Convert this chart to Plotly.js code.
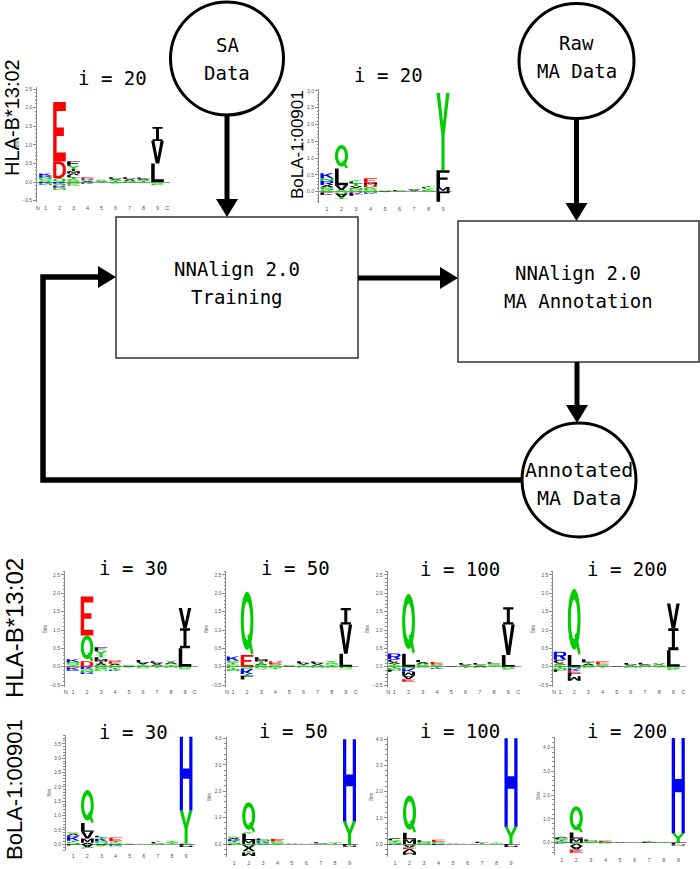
<!DOCTYPE html>
<html><head><meta charset="utf-8">
<script src="https://cdn.plot.ly/plotly-3.0.1.min.js"></script>
<style>html,body{margin:0;padding:0;background:#fff}#chart{width:700px;height:869px}</style>
</head><body><div id="chart"></div>
<script>
// ================= DATA =================
// positions of the 9-mer binding core
const positions = [1,2,3,4,5,6,7,8,9];
const hlaTickText = ["N","1","2","3","4","5","6","7","8","9","C"];
const bolaTickText = ["1","2","3","4","5","6","7","8","9"];
const iterationTitles = ["i = 20","i = 20","i = 30","i = 50","i = 100","i = 200","i = 30","i = 50","i = 100","i = 200"];
const alleleNames = ["HLA-B*13:02","BoLA-1:00901"];
const nodeLabels = ["SA\nData","Raw\nMA Data","NNAlign 2.0\nTraining","NNAlign 2.0\nMA Annotation","Annotated\nMA Data"];

// Each logo: 9 columns, each a list of [residue, bits]; positive bits stack upward, negative downward
const HLA_I20 = [
  [["G",0.04],["S",0.05],["N",0.04],["R",0.04],["K",0.06],["K",-0.04],["N",-0.04]],
  [["Q",0.1],["D",0.45],["E",1.6],["K",-0.05],["S",-0.05],["R",-0.04],["E",-0.03],["N",-0.04]],
  [["S",0.04],["G",0.04],["T",0.05],["L",0.05],["A",0.05],["M",0.06],["I",0.05],["Y",0.1],["F",0.12],["S",-0.04],["E",-0.03],["G",-0.04]],
  [["A",0.03],["G",0.03],["R",0.03],["E",0.04],["N",-0.03],["K",-0.02]],
  [["A",0.02],["S",0.02],["G",0.02],["T",-0.02]],
  [["T",0.03],["S",0.03],["V",0.03],["L",0.04],["G",-0.04]],
  [["S",0.03],["A",0.03],["V",0.03],["L",0.04],["N",-0.03]],
  [["T",0.03],["S",0.03],["A",0.03],["L",0.03],["G",-0.03]],
  [["L",0.5],["V",0.6],["I",0.38],["G",-0.04],["S",-0.04]]
];
const BOLA_I20 = [
  [["G",0.05],["S",0.08],["A",0.07],["R",0.12],["N",0.08],["K",0.15],["E",-0.03],["L",-0.04],["K",-0.03]],
  [["Y",0.05],["V",0.14],["L",0.5],["Q",0.7],["S",-0.05],["A",-0.12],["T",-0.05]],
  [["S",0.06],["N",0.05],["V",0.06],["T",0.08],["L",0.05],["Y",0.05],["D",-0.03],["K",-0.04],["L",-0.05]],
  [["S",0.08],["G",0.05],["D",0.08],["M",0.06],["E",0.13],["N",-0.03],["K",-0.03]],
  [["A",0.02],["S",0.02],["T",-0.02]],
  [["S",0.03],["L",0.02]],
  [["T",0.03],["V",0.03],["A",0.02]],
  [["S",0.05],["Y",0.05],["L",0.03],["T",0.04]],
  [["M",0.14],["F",0.5],["Y",2.3],["L",-0.3]]
];
const HLA_I30 = [
  [["T",0.04],["S",0.05],["N",0.04],["K",0.07],["E",-0.02],["K",-0.06],["R",-0.03]],
  [["D",0.15],["Q",0.7],["E",1.06],["K",-0.06],["S",-0.05],["N",-0.05],["R",-0.04]],
  [["S",0.04],["A",0.05],["I",0.05],["M",0.06],["L",0.06],["T",0.05],["Y",0.12],["F",0.1],["G",-0.04],["S",-0.04],["N",-0.03]],
  [["G",0.04],["A",0.04],["E",0.06],["D",0.03],["S",-0.04],["T",-0.04],["K",-0.03]],
  [["A",0.02],["S",0.02],["T",-0.02]],
  [["S",0.04],["T",0.03],["V",0.05],["L",0.06],["S",-0.04]],
  [["S",0.03],["A",0.04],["V",0.04],["L",0.04],["T",-0.03]],
  [["T",0.04],["S",0.04],["A",0.04],["Y",0.04],["N",-0.03]],
  [["L",0.5],["I",0.55],["V",0.55],["S",-0.04],["G",-0.03]]
];
const HLA_I50 = [
  [["S",0.06],["T",0.05],["G",0.05],["K",0.12],["E",-0.03],["T",-0.05],["N",-0.04]],
  [["E",0.32],["Q",1.72],["S",-0.06],["K",-0.14],["T",-0.05],["L",-0.1]],
  [["S",0.05],["A",0.04],["T",0.05],["M",0.05],["L",0.07],["G",-0.04],["S",-0.03]],
  [["G",0.04],["S",0.03],["E",0.05],["D",0.03],["N",-0.03],["T",-0.03]],
  [["A",0.02],["S",0.02]],
  [["S",0.03],["T",0.03],["V",0.04],["L",0.05],["S",-0.03]],
  [["S",0.03],["A",0.03],["V",0.04],["L",0.04],["N",-0.03]],
  [["T",0.04],["S",0.04],["G",0.04],["Y",0.04],["G",-0.03]],
  [["L",0.35],["V",0.8],["I",0.45],["G",-0.04],["S",-0.03]]
];
const HLA_I100 = [
  [["S",0.04],["T",0.04],["A",0.04],["C",0.08],["R",0.16],["T",-0.04],["N",-0.05],["L",-0.05]],
  [["L",0.35],["Q",1.63],["N",-0.05],["K",-0.09],["M",-0.1],["A",-0.1],["E",-0.07]],
  [["S",0.04],["G",0.04],["A",0.04],["L",0.06],["G",-0.03]],
  [["S",0.04],["G",0.03],["E",0.06],["T",-0.04],["K",-0.02]],
  [["A",0.02]],
  [["S",0.03],["V",0.03],["L",0.04],["T",-0.03]],
  [["A",0.03],["S",0.03],["L",0.04],["N",-0.03]],
  [["T",0.03],["G",0.03],["S",0.03],["L",0.03]],
  [["L",0.32],["V",0.83],["I",0.47],["S",-0.04],["G",-0.04]]
];
const HLA_I200 = [
  [["S",0.03],["T",0.03],["A",0.03],["C",0.1],["R",0.22],["T",-0.04],["N",-0.05],["L",-0.05]],
  [["L",0.32],["Q",1.8],["N",-0.05],["K",-0.06],["E",-0.06],["L",-0.09],["M",-0.12]],
  [["S",0.04],["A",0.04],["T",0.04],["L",0.08],["G",-0.03]],
  [["S",0.04],["G",0.03],["E",0.07],["T",-0.03]],
  [["A",0.02]],
  [["S",0.03],["V",0.03],["L",0.04],["N",-0.03]],
  [["T",0.03],["A",0.03],["L",0.05],["S",-0.03]],
  [["S",0.03],["G",0.03],["V",0.03],["T",-0.02]],
  [["L",0.45],["I",0.6],["V",0.67],["S",-0.04],["G",-0.05]]
];
const BOLA_I30 = [
  [["S",0.08],["T",0.04],["K",0.14],["R",0.05],["A",0.06],["G",0.05],["L",-0.03],["E",-0.02]],
  [["A",0.05],["M",0.15],["V",0.24],["L",0.3],["Q",1.15],["A",-0.1],["S",-0.05]],
  [["S",0.06],["N",0.05],["K",0.08],["T",0.06],["L",0.05],["A",-0.03],["G",-0.04]],
  [["S",0.06],["T",0.05],["E",0.13],["K",-0.04],["N",-0.04]],
  [["A",0.02]],
  [["S",0.02]],
  [["S",0.04],["L",0.04],["T",0.03],["G",-0.02]],
  [["T",0.04],["S",0.04],["Y",0.04]],
  [["S",0.03],["Y",1.15],["H",2.57],["L",-0.05],["M",-0.04]]
];
const BOLA_I50 = [
  [["S",0.06],["T",0.05],["K",0.07],["A",0.05],["G",0.05],["L",-0.03],["E",-0.02]],
  [["M",0.15],["L",0.25],["Y",0.05],["Q",1.13],["S",-0.05],["A",-0.1],["V",-0.12],["T",-0.05],["M",-0.13]],
  [["S",0.05],["K",0.05],["N",0.05],["L",0.06],["G",-0.03]],
  [["S",0.05],["G",0.04],["E",0.1],["T",-0.04]],
  [["A",0.02]],
  [["S",0.02]],
  [["S",0.03],["L",0.04]],
  [["T",0.04],["S",0.03]],
  [["Y",0.85],["H",3.12],["L",-0.06],["M",-0.04]]
];
const BOLA_I100 = [
  [["S",0.06],["T",0.05],["G",0.04],["L",0.04],["A",0.04],["K",-0.03]],
  [["M",0.18],["L",0.25],["Q",1.42],["S",-0.05],["A",-0.08],["E",-0.06],["V",-0.12],["M",-0.1]],
  [["S",0.05],["N",0.04],["L",0.05],["G",-0.03]],
  [["S",0.04],["G",0.04],["E",0.08],["K",-0.04]],
  [["A",0.02]],
  [["S",0.02]],
  [["T",0.04],["L",0.05]],
  [["S",0.03],["T",0.03]],
  [["Y",0.66],["H",3.38],["L",-0.07],["M",-0.04]]
];
const BOLA_I200 = [
  [["S",0.06],["T",0.05],["G",0.05],["L",0.05],["A",0.04],["K",-0.03]],
  [["M",0.18],["L",0.25],["Q",1.1],["S",-0.04],["V",-0.1],["A",-0.15],["K",-0.03],["E",-0.1]],
  [["S",0.04],["N",0.04],["L",0.05],["G",-0.02]],
  [["S",0.03],["E",0.05],["G",-0.04]],
  [["A",0.02]],
  [["S",0.02]],
  [["L",0.04],["T",0.03]],
  [["S",0.03]],
  [["Y",0.4],["H",4.0],["L",-0.08],["M",-0.04]]
];

// ================= STYLE / LAYOUT =================
const W = 700, H = 869;
const AA_COLOR = {D:"#ff0000",E:"#ff0000",K:"#0000ff",R:"#0000ff",H:"#0000ff",
  A:"#000000",C:"#000000",F:"#000000",I:"#000000",L:"#000000",M:"#000000",P:"#000000",V:"#000000",W:"#000000",
  G:"#00cc00",S:"#00cc00",T:"#00cc00",Y:"#00cc00",Q:"#00cc00",N:"#00cc00"};

// panel geometry (pixels): px0 = x of position 1, sp = px per position, y0 = y of 0 bits, ppb = px per bit
const PANELS = [
  {data:HLA_I20,  hla:true,  px0:45.5, sp:14.0, y0:182,   ppb:37.2, yr:[-0.55,2.55], xr:[0.40,9.9], dt:0.5, tx:112, ty:78},
  {data:BOLA_I20, hla:false, px0:327,  sp:14.5, y0:191.7, ppb:33.6, yr:[-0.35,3.07], xr:[0.45,9.6], dt:0.5, tx:388, ty:75},
  {data:HLA_I30,  hla:true,  px0:73,   sp:14.0, y0:666.7, ppb:36.7, yr:[-0.55,2.6], xr:[0.43,9.9], dt:0.5, tx:133, ty:568},
  {data:HLA_I50,  hla:true,  px0:233,  sp:14.1, y0:666.7, ppb:36.7, yr:[-0.55,2.6], xr:[0.53,9.9], dt:0.5, tx:295, ty:568},
  {data:HLA_I100, hla:true,  px0:394.3,sp:14.25,y0:666.7, ppb:36.7, yr:[-0.55,2.6], xr:[0.53,9.9], dt:0.5, tx:460, ty:569},
  {data:HLA_I200, hla:true,  px0:560,  sp:14.17,y0:666.7, ppb:36.7, yr:[-0.55,2.6], xr:[0.53,9.9], dt:0.5, tx:627, ty:569},
  {data:BOLA_I30, hla:false, px0:73.3, sp:14.1, y0:844.3, ppb:28.7, yr:[-0.2,3.8],  xr:[0.48,9.6], dt:0.5, tx:133, ty:732},
  {data:BOLA_I50, hla:false, px0:234.3,sp:14.4, y0:844,   ppb:26.4, yr:[-0.5,4.05], xr:[0.47,9.6], dt:1.0, tx:293, ty:731},
  {data:BOLA_I100,hla:false, px0:395,  sp:14.5, y0:844,   ppb:26.2, yr:[-0.5,4.1],  xr:[0.5,9.6],  dt:1.0, tx:460, ty:731},
  {data:BOLA_I200,hla:false, px0:561.7,sp:14.57,y0:842.7, ppb:23.8, yr:[-0.5,4.45], xr:[0.54,9.6], dt:1.0, tx:627, ty:731}
];

// ---------- glyph outlines in a unit box ----------
function arc(cx,cy,rx,ry,a0,a1,n){const p=[];for(let i=0;i<=n;i++){const a=a0+(a1-a0)*i/n;p.push([cx+rx*Math.cos(a),cy+ry*Math.sin(a)]);}return p;}
const D2R=Math.PI/180;
const full=(cx,cy,rx,ry)=>arc(cx,cy,rx,ry,0,2*Math.PI,40).slice(0,-1);
const O=p=>({p:p,h:false}), Hl=p=>({p:p,h:true});
const PBody=[[0,0],[0.26,0],[0.26,0.4],[0.75,0.4],[0.95,0.5],[1,0.7],[0.95,0.9],[0.75,1],[0,1]];
const PHole=[[0.26,0.54],[0.7,0.54],[0.76,0.62],[0.76,0.78],[0.7,0.86],[0.26,0.86]];
const GLYPH = {
  A:[O([[0,0],[0.26,0],[0.33,0.24],[0.67,0.24],[0.74,0],[1,0],[0.63,1],[0.37,1]]),Hl([[0.38,0.38],[0.62,0.38],[0.5,0.78]])],
  C:[O(arc(0.5,0.5,0.5,0.5,50*D2R,310*D2R,30).concat(arc(0.5,0.5,0.26,0.3,310*D2R,50*D2R,30)))],
  D:[O([[0,0],[0.55,0],[0.85,0.1],[1,0.32],[1,0.68],[0.85,0.9],[0.55,1],[0,1]]),Hl([[0.25,0.15],[0.52,0.15],[0.7,0.25],[0.76,0.4],[0.76,0.6],[0.7,0.75],[0.52,0.85],[0.25,0.85]])],
  E:[O([[0,0],[1,0],[1,0.15],[0.27,0.15],[0.27,0.43],[0.85,0.43],[0.85,0.57],[0.27,0.57],[0.27,0.85],[1,0.85],[1,1],[0,1]])],
  F:[O([[0,0],[0.27,0],[0.27,0.43],[0.85,0.43],[0.85,0.57],[0.27,0.57],[0.27,0.85],[1,0.85],[1,1],[0,1]])],
  G:[O(arc(0.5,0.5,0.5,0.5,45*D2R,360*D2R,30).concat(arc(0.5,0.5,0.26,0.3,360*D2R,45*D2R,30))),O([[0.55,0.38],[1,0.38],[1,0.52],[0.55,0.52]])],
  H:[O([[0,0],[0.25,0],[0.25,0.43],[0.75,0.43],[0.75,0],[1,0],[1,1],[0.75,1],[0.75,0.57],[0.25,0.57],[0.25,1],[0,1]])],
  I:[O([[0.1,0],[0.9,0],[0.9,0.13],[0.62,0.13],[0.62,0.87],[0.9,0.87],[0.9,1],[0.1,1],[0.1,0.87],[0.38,0.87],[0.38,0.13],[0.1,0.13]])],
  K:[O([[0,0],[0.25,0],[0.25,0.35],[0.4,0.5],[0.75,0],[1,0],[0.57,0.65],[1,1],[0.7,1],[0.25,0.6],[0.25,1],[0,1]])],
  L:[O([[0,0],[1,0],[1,0.15],[0.28,0.15],[0.28,1],[0,1]])],
  M:[O([[0,0],[0.22,0],[0.22,0.7],[0.42,0.2],[0.58,0.2],[0.78,0.7],[0.78,0],[1,0],[1,1],[0.75,1],[0.5,0.45],[0.25,1],[0,1]])],
  N:[O([[0,0],[0.22,0],[0.22,0.62],[0.74,0],[1,0],[1,1],[0.78,1],[0.78,0.38],[0.26,1],[0,1]])],
  P:[O(PBody),Hl(PHole)],
  Q:[O(full(0.5,0.54,0.5,0.46)),Hl(full(0.5,0.54,0.26,0.3)),O([[0.52,0.3],[0.7,0.34],[1,0.03],[0.82,0]])],
  R:[O(PBody),Hl(PHole),O([[0.42,0.46],[0.72,0],[1,0],[0.72,0.46]])],
  S:[O([[0.1,0],[0.9,0],[1,0.1],[1,0.42],[0.9,0.58],[0.28,0.58],[0.28,0.85],[0.95,0.85],[0.95,1],[0.1,1],[0,0.9],[0,0.58],[0.1,0.42],[0.72,0.42],[0.72,0.15],[0.05,0.15]])],
  T:[O([[0.37,0],[0.63,0],[0.63,0.85],[1,0.85],[1,1],[0,1],[0,0.85],[0.37,0.85]])],
  V:[O([[0,1],[0.36,0],[0.64,0],[1,1],[0.74,1],[0.5,0.28],[0.26,1]])],
  W:[O([[0,1],[0.15,0],[0.35,0],[0.5,0.55],[0.65,0],[0.85,0],[1,1],[0.8,1],[0.73,0.35],[0.58,0.85],[0.42,0.85],[0.27,0.35],[0.2,1]])],
  Y:[O([[0,1],[0.38,0.45],[0.38,0],[0.62,0],[0.62,0.45],[1,1],[0.74,1],[0.5,0.62],[0.26,1]])]
};
// orient outer rings counter-clockwise, holes clockwise (nonzero fill rule)
Object.keys(GLYPH).forEach(k=>{GLYPH[k]=GLYPH[k].map(r=>{let a=0;const p=r.p;for(let i=0;i<p.length;i++){const q=p[(i+1)%p.length];a+=p[i][0]*q[1]-q[0]*p[i][1];}return ((a>0)===r.h)?p.slice().reverse():p;});});

function letterShape(L,xc,yb,yt,flip,xref,yref){
  const hw=0.45, f=v=>v.toFixed(4);
  let d="";
  GLYPH[L].forEach(ring=>{
    ring.forEach((pt,i)=>{
      const x=xc-hw+2*hw*pt[0];
      const y=flip? yt-pt[1]*(yt-yb) : yb+pt[1]*(yt-yb);
      d+=(i===0?"M":"L")+f(x)+","+f(y);
    });
    d+="Z";
  });
  return {type:"path",path:d,xref:xref,yref:yref,fillcolor:AA_COLOR[L],fillrule:"nonzero",line:{width:0},layer:"above"};
}

const layout = {width:W,height:H,margin:{l:0,r:0,t:0,b:0},paper_bgcolor:"#fff",plot_bgcolor:"rgba(0,0,0,0)",showlegend:false};
const shapes=[], annotations=[], traces=[];
const axisGrey="#8a8a8a", tickFont={family:"Liberation Sans, Arial, sans-serif",size:5,color:"#555"};

PANELS.forEach((P,i)=>{
  const n=i+1, sfx=n===1?"":String(n);
  const xref="x"+sfx, yref="y"+sfx;
  const left=P.px0+(P.xr[0]-1)*P.sp, right=P.px0+(P.xr[1]-1)*P.sp;
  const bottom=P.y0-P.yr[0]*P.ppb, top=P.y0-P.yr[1]*P.ppb;
  const tv = P.hla ? [P.xr[0]+0.05].concat(positions,[9.7]) : positions;
  const tt = P.hla ? hlaTickText : bolaTickText;
  layout["xaxis"+sfx]={domain:[left/W,right/W],range:P.xr,anchor:yref,showgrid:false,zeroline:false,showline:false,
    ticks:"",tickvals:tv,ticktext:tt,tickfont:{family:"Liberation Sans, Arial, sans-serif",size:5.5,color:"#555"},fixedrange:true,ticklabelstandoff:1};
  layout["yaxis"+sfx]={domain:[1-bottom/H,1-top/H],range:P.yr,anchor:xref,showgrid:false,
    zeroline:true,zerolinecolor:"#9a9a9a",zerolinewidth:1,showline:true,linecolor:axisGrey,linewidth:1,
    ticks:"outside",ticklen:3,tickwidth:1,tickcolor:axisGrey,dtick:P.dt,tick0:0,tickformat:".1f",tickfont:tickFont,
    minor:{ticks:"outside",ticklen:1.5,tickcolor:axisGrey,dtick:P.dt/5},
    title:{text:"Bits",font:{family:"Liberation Sans, Arial, sans-serif",size:5,color:"#555"},standoff:2},fixedrange:true};
  const totals=[];
  P.data.forEach((col,ci)=>{
    const x=positions[ci]; let up=0, dn=0;
    col.forEach(([L,b])=>{
      if(b>=0){shapes.push(letterShape(L,x,up,up+b,false,xref,yref));up+=b;}
      else{shapes.push(letterShape(L,x,dn+b,dn,true,xref,yref));dn+=b;}
    });
    totals.push(up);
  });
  traces.push({type:"scatter",x:positions,y:totals,xaxis:xref,yaxis:yref,mode:"markers",marker:{opacity:0,size:2},hoverinfo:"skip",showlegend:false});
  annotations.push({text:iterationTitles[i],x:P.tx/W,y:1-P.ty/H,xref:"paper",yref:"paper",xanchor:"center",yanchor:"middle",showarrow:false,
    font:{family:"DejaVu Sans Mono, monospace",size:19,color:"#000"}});
});

// allele labels
const labelFont=s=>({family:"Liberation Sans, Arial, sans-serif",size:s,color:"#000"});
[[alleleNames[0],12,118,20],[alleleNames[1],297,145,17],[alleleNames[0],14,628,24],[alleleNames[1],14,790,22]].forEach(([t,x,y,s])=>{
  annotations.push({text:t,x:x/W,y:1-y/H,xref:"paper",yref:"paper",textangle:-90,xanchor:"center",yanchor:"middle",showarrow:false,font:labelFont(s)});
});

// ---------- flow diagram ----------
const X=px=>px/W, Y=py=>1-py/H;
function circle(cx,cy,r){shapes.push({type:"circle",xref:"paper",yref:"paper",x0:X(cx-r),x1:X(cx+r),y0:Y(cy+r),y1:Y(cy-r),line:{color:"#000",width:3},fillcolor:"rgba(0,0,0,0)"});}
function box(x0,y0,x1,y1){shapes.push({type:"rect",xref:"paper",yref:"paper",x0:X(x0),x1:X(x1),y0:Y(y1),y1:Y(y0),line:{color:"#333",width:1.5},fillcolor:"rgba(0,0,0,0)"});}
function poly(pts,w){shapes.push({type:"path",xref:"paper",yref:"paper",path:"M"+pts.map(p=>X(p[0]).toFixed(5)+","+Y(p[1]).toFixed(5)).join("L"),line:{color:"#000",width:w},fillcolor:"rgba(0,0,0,0)"});}
function head(tx,ty,dir){ // triangle arrowhead with tip at (tx,ty)
  const L=18, w=11; let p;
  if(dir==="down") p=[[tx,ty],[tx-w,ty-L],[tx+w,ty-L]];
  else p=[[tx,ty],[tx-L,ty-w],[tx-L,ty+w]];
  shapes.push({type:"path",xref:"paper",yref:"paper",path:"M"+p.map(q=>X(q[0]).toFixed(5)+","+Y(q[1]).toFixed(5)).join("L")+"Z",fillcolor:"#000",line:{width:0}});
}
circle(227,58.5,56.5); circle(576.5,61,57.5); circle(579,480,57);
box(116,217,358,358); box(458,221,699,362);
poly([[227,115],[227,202]],5); head(227,217,"down");
poly([[576.5,118],[576.5,206]],5); head(576.5,221,"down");
poly([[358,278],[443,278]],5); head(458,278,"right");
poly([[577,362],[577,408]],5); head(577,423,"down");
poly([[522,480],[43,480],[43,277],[101,277]],5.5); head(116,277,"right");

const nodeText=[[nodeLabels[0],227,59,19],[nodeLabels[1],576.5,57,19],[nodeLabels[2],237,283,19],[nodeLabels[3],578,287,19],[nodeLabels[4],579,484,20]];
nodeText.forEach(([t,x,y,s])=>{
  const lines=t.split("\n");
  lines.forEach((ln,k)=>{
    annotations.push({text:ln,x:X(x),y:Y(y+(k-(lines.length-1)/2)*28.5),xref:"paper",yref:"paper",xanchor:"center",yanchor:"middle",showarrow:false,
      font:{family:"DejaVu Sans Mono, monospace",size:s,color:"#000"}});
  });
});

layout.shapes=shapes; layout.annotations=annotations;
Plotly.newPlot("chart",traces,layout,{staticPlot:true,displayModeBar:false});
</script>
</body></html>
